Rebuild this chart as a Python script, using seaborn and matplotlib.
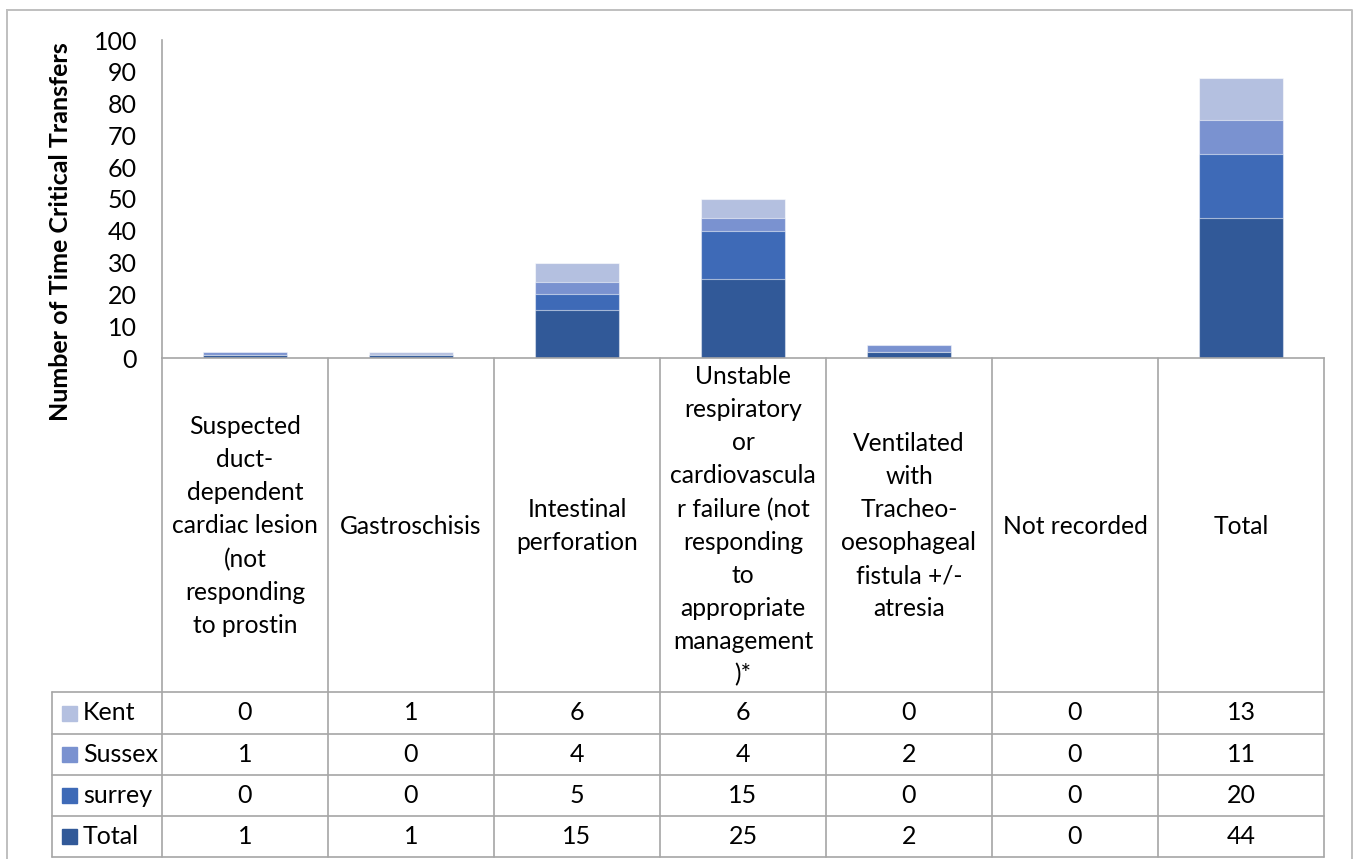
import matplotlib
matplotlib.use("Agg")
import matplotlib.pyplot as plt
import seaborn as sns
import pandas as pd
import numpy as np

# Categories (column headings of the data table, wrapped as displayed)
categories = [
    "Suspected\nduct-\ndependent\ncardiac lesion\n(not\nresponding\nto prostin",
    "Gastroschisis",
    "Intestinal\nperforation",
    "Unstable\nrespiratory\nor\ncardiovascula\nr failure (not\nresponding\nto\nappropriate\nmanagement\n)*",
    "Ventilated\nwith\nTracheo-\noesophageal\nfistula +/-\natresia",
    "Not recorded",
    "Total",
]

# Series values (stack order: bottom to top)
series_names = ["Total", "surrey", "Sussex", "Kent"]
total = [1, 1, 15, 25, 2, 0, 44]
surrey = [0, 0, 5, 15, 0, 0, 20]
sussex = [1, 0, 4, 4, 2, 0, 11]
kent = [0, 1, 6, 6, 0, 0, 13]

y_ticks = [0, 10, 20, 30, 40, 50, 60, 70, 80, 90, 100]

colors = {
    "Total": "#315998",
    "surrey": "#3E6AB7",
    "Sussex": "#7A92D0",
    "Kent": "#B4C0E0",
}

sns.set_theme(style="white")
plt.rcParams["font.family"] = ["Lato", "DejaVu Sans"]

FS = 18
HEAD_FS = 17.7

W, H = 1354, 859
fig = plt.figure(figsize=(W / 100, H / 100), dpi=100)
fig.patch.set_facecolor("white")

# pixel layout helpers
plot_left, plot_right, plot_top, plot_bottom = 162, 1324, 40, 358
ax = fig.add_axes([plot_left / W, 1 - plot_bottom / H,
                   (plot_right - plot_left) / W, (plot_bottom - plot_top) / H])

values = {"Total": total, "surrey": surrey, "Sussex": sussex, "Kent": kent}
keys = [f"c{i}" for i in range(len(categories))]
df = pd.DataFrame({"cat": keys})
cum = np.zeros(len(categories))
for name in series_names:
    cum = cum + np.array(values[name])
    df[name] = cum

# Stacked bars: draw cumulative heights from the top series downwards
for name in reversed(series_names):
    sns.barplot(data=df, x="cat", y=name, order=keys, color=colors[name],
                width=0.51, saturation=1, ax=ax,
                edgecolor=(1, 1, 1, 0.55), linewidth=0.8)

ax.set_xlim(-0.5, len(categories) - 0.5)
ax.set_ylim(0, 100)
ax.set_yticks(y_ticks)
ax.set_yticklabels([str(t) for t in y_ticks], fontsize=FS, color="black")
ax.tick_params(axis="y", length=0, pad=18)
ax.set_xticks([])
ax.set_xlabel("")
ax.set_ylabel("")
for s in ["top", "right"]:
    ax.spines[s].set_visible(False)
for s in ["left", "bottom"]:
    ax.spines[s].set_color("#A6A6A6")
    ax.spines[s].set_linewidth(1.2)
ax.patch.set_alpha(0)

# Overlay in pixel coordinates for the data table and frame
ov = fig.add_axes([0, 0, 1, 1], zorder=-1)
ov.set_xlim(0, W)
ov.set_ylim(H, 0)
ov.axis("off")

line_c = "#A6A6A6"
lw = 1.2

# chart frame
ov.plot([7, 1352, 1352, 7, 7], [10, 10, 862, 862, 10], color="#BFBFBF", lw=1.4)

col_w = (plot_right - plot_left) / len(categories)
col_edges = [plot_left + i * col_w for i in range(len(categories) + 1)]
label_bottom = 692
row_edges = [692, 734, 775, 816, 857]
legend_left = 52

# vertical column lines
for x in col_edges:
    ov.plot([x, x], [plot_bottom, row_edges[-1]], color=line_c, lw=lw)
ov.plot([legend_left, legend_left], [row_edges[0], row_edges[-1]], color=line_c, lw=lw)
# horizontal row lines
for y in row_edges:
    ov.plot([legend_left, plot_right], [y, y], color=line_c, lw=lw)

# category headings
for i, lab in enumerate(categories):
    cx = plot_left + (i + 0.5) * col_w
    ov.text(cx, (plot_bottom + label_bottom) / 2 + 1, lab, ha="center", va="center",
            fontsize=HEAD_FS, linespacing=1.53, color="black")

# table rows (top row is the top of the stack)
for r, name in enumerate(reversed(series_names)):
    y0, y1 = row_edges[r], row_edges[r + 1]
    cy = (y0 + y1) / 2
    ov.add_patch(plt.Rectangle((62, cy - 7.5), 15, 15, color=colors[name]))
    ov.text(83, cy, name, ha="left", va="center", fontsize=FS, color="black")
    for i, v in enumerate(values[name]):
        cx = plot_left + (i + 0.5) * col_w
        ov.text(cx, cy, str(v), ha="center", va="center", fontsize=FS, color="black")

# y-axis title
ov.text(61, 232, "Number of Time Critical Transfers", rotation=90, ha="center",
        va="center", fontsize=18, fontweight="bold", color="black")

fig.savefig("out.png", dpi=100)
